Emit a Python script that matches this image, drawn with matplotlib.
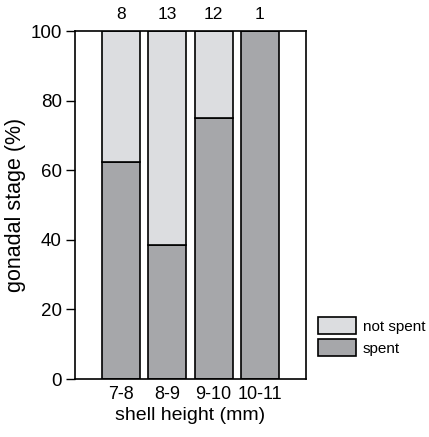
import matplotlib
matplotlib.use("Agg")
import matplotlib.pyplot as plt
from matplotlib.patches import Patch

plt.rcParams['font.family'] = ['Liberation Sans', 'DejaVu Sans']

categories = ["7-8", "8-9", "9-10", "10-11"]
spent = [62.5, 38.5, 75.0, 100.0]
not_spent = [37.5, 61.5, 25.0, 0.0]
n_counts = [8, 13, 12, 1]

light = "#dcdde0"
dark = "#a6a7aa"

fig = plt.figure(figsize=(4.29, 4.37), dpi=100)
ax = fig.add_axes([75/429, 1-379/437, (306-75)/429, (379-31)/437])

x = list(range(len(categories)))
ax.bar(x, spent, width=0.82, color=dark, edgecolor="black", linewidth=1.2, label="spent")
ax.bar(x, not_spent, bottom=spent, width=0.82, color=light, edgecolor="black", linewidth=1.2, label="not spent")

ax.set_xlim(-1, 4)
ax.set_ylim(0, 100)
ax.set_xticks(x)
ax.set_xticklabels(categories)
ax.set_yticks([0, 20, 40, 60, 80, 100])
ax.tick_params(axis='x', length=0, labelsize=13, pad=5)
ax.tick_params(axis='y', length=6.5, width=1, labelsize=13.5, direction='out', pad=3)
for s in ax.spines.values():
    s.set_linewidth(1.2)

for xi, n in zip(x, n_counts):
    ax.text(xi, 102.5, str(n), ha='center', va='bottom', fontsize=12.5)

ax.set_xlabel("shell height (mm)", fontsize=14, labelpad=3)
ax.set_ylabel("gonadal stage (%)", fontsize=15.5, labelpad=3)

handles = [Patch(facecolor=light, edgecolor="black", linewidth=1.2, label="not spent"),
           Patch(facecolor=dark, edgecolor="black", linewidth=1.2, label="spent")]
fig.legend(handles=handles, loc='upper left', bbox_to_anchor=(316/429, 1-315/437),
           frameon=False, fontsize=11, handlelength=2.5, handleheight=1.35,
           labelspacing=0.3, handletextpad=0.4, borderpad=0.15, borderaxespad=0)

fig.savefig("out.png", dpi=100)
